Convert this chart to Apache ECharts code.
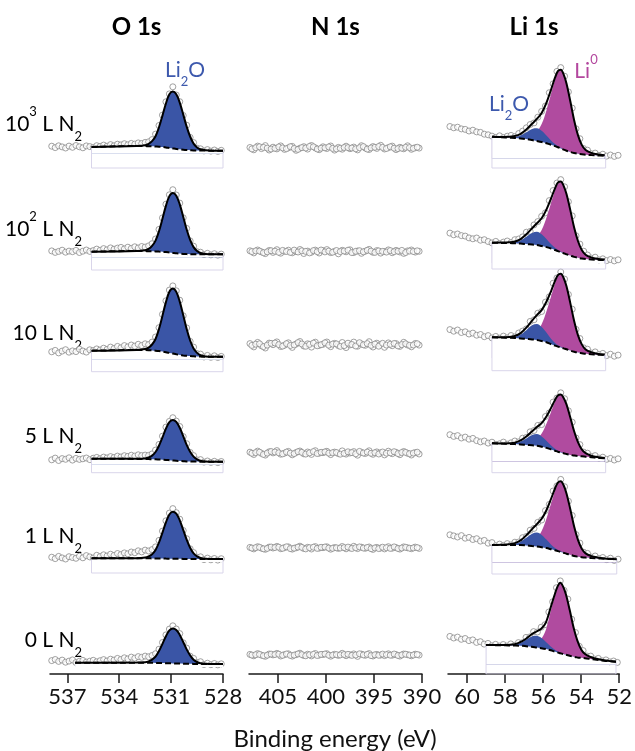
<!DOCTYPE html>
<html><head><meta charset="utf-8">
<script src="https://cdn.jsdelivr.net/npm/echarts@6/dist/echarts.min.js"></script>
<style>html,body{margin:0;padding:0;background:#fff}#c{width:635px;height:751px}</style>
</head><body><div id="c"></div>
<script>
// ---------------- text ----------------
const colTitles = ['O 1s', 'N 1s', 'Li 1s'];
const rowLabels = ['{m|10}{p|3}{m| L N}{b|2}', '{m|10}{p|2}{m| L N}{b|2}', '{m|10 L N}{b|2}',
                   '{m|5 L N}{b|2}', '{m|1 L N}{b|2}', '{m|0 L N}{b|2}'];
const xTitle = 'Binding energy (eV)';
const oTicks = [537, 534, 531, 528];
const nTicks = [405, 400, 395, 390];
const liTicks = [60, 58, 56, 54, 52];
const oRange = [528, 538], nRange = [390, 408], liRange = [52, 61];

// ---------------- O 1s ----------------
const oScatE = [537.9,537.7,537.5,537.3,537.1,536.9,536.7,536.5,536.3,536.1,535.9,535.7,535.5,535.3,535.1,534.9,534.7,534.5,534.3,534.1,533.9,533.7,533.5,533.3,533.1,532.9,532.7,532.5,532.3,532.1,531.9,531.7,531.5,531.3,531.1,530.9,530.7,530.5,530.3,530.1,529.9,529.7,529.5,529.3,529.1,528.9,528.7,528.5,528.3,528.1];
const oScat_1000 = [0.8,-0.6,1.2,0.1,-1.0,0.9,-0.3,1.5,0.2,-0.8,1.1,0.4,-0.5,1.3,0.6,1.9,0.8,2.4,1.2,2.8,2.1,3.3,2.2,3.6,2.9,4.1,3.5,4.6,5.2,7.4,12.9,21.5,31.9,45.2,53.1,60.2,52.0,45.3,31.5,21.8,9.6,4.4,-1.2,-1.8,-3.9,-2.6,-4.1,-3.0,-4.4,-3.3];
const oScat_100 = [1.1,-0.4,0.6,1.8,-0.2,0.9,0.3,1.6,-0.5,0.8,2.0,0.6,1.4,2.9,1.7,3.4,2.2,4.1,2.8,3.9,4.6,3.1,4.8,3.6,5.2,4.0,5.5,4.9,6.1,8.3,13.0,22.6,34.1,47.8,57.2,62.3,57.0,48.9,34.2,23.6,11.1,5.8,0.3,-0.2,-2.6,-1.3,-2.9,-1.7,-3.2,-2.1];
const oScat_10 = [4.2,5.6,3.1,4.9,6.3,3.8,5.1,4.4,6.8,5.0,3.9,6.2,5.5,7.1,6.0,7.8,6.6,8.9,7.5,9.6,8.2,10.4,9.1,11.0,9.8,11.7,10.5,12.2,11.4,13.9,19.0,28.3,41.6,55.2,65.9,70.1,65.2,55.8,40.2,28.1,14.6,8.9,2.4,1.9,-1.0,0.6,-1.3,0.2,-1.5,-0.4];
const oScat_5 = [-0.8,0.9,-1.5,0.4,-0.3,1.2,-1.1,0.6,-0.4,0.2,1.0,-0.6,0.8,1.6,0.3,1.9,1.1,2.4,1.5,2.9,2.0,3.3,2.6,3.8,2.9,4.2,3.4,3.9,3.6,5.1,8.9,14.6,22.8,31.9,37.6,41.3,37.9,32.5,22.4,15.3,6.6,3.4,-0.9,-0.6,-3.1,-2.0,-3.4,-2.3,-3.6,-2.5];
const oScat_1 = [1.8,0.4,2.6,1.1,0.0,2.3,1.5,0.7,2.8,1.2,3.4,2.1,1.0,3.7,2.5,4.2,3.0,4.8,3.6,5.5,4.4,6.1,5.2,7.0,6.3,8.2,7.1,8.9,8.0,9.4,12.1,18.6,27.9,38.2,45.9,50.4,46.3,39.8,28.5,20.3,10.2,6.4,1.8,2.2,-0.6,0.9,-0.8,0.5,-1.1,0.3];
const oScat_0 = [2.4,3.5,1.6,2.9,0.8,1.9,3.1,0.5,1.7,2.6,0.9,1.8,2.7,1.2,2.3,3.4,2.0,3.8,2.9,4.6,3.5,5.2,4.1,5.9,4.8,6.4,5.7,6.9,6.2,7.5,9.3,13.8,20.5,28.1,33.9,37.2,34.0,29.4,20.2,14.9,6.8,4.6,0.4,1.3,-1.5,-0.2,-1.7,-0.5,-1.9,-0.8];

const oFitE = [536.55,535.6,533.0,532.5,532.3,532.1,531.9,531.7,531.5,531.3,531.1,530.9,530.7,530.5,530.3,530.1,529.9,529.7,529.5,529.3,529.0,528.6,528.0];
const oBase_1000 = [null,0.0,1.0,0.9,0.8,0.7,0.5,0.3,0.0,-0.4,-0.9,-1.4,-1.9,-2.3,-2.7,-3.0,-3.2,-3.4,-3.5,-3.6,-3.6,-3.7,-3.7];
const oLi2O_1000 = [null,0,0.1,0.9,2.3,5.1,10.3,19.4,31.4,43.9,53.6,57.0,54.7,46.7,35.3,23.4,13.7,6.8,3.1,1.3,0.3,0,0];
const oBase_100 = [null,0.3,1.0,0.9,0.8,0.7,0.6,0.4,0.2,-0.1,-0.5,-0.9,-1.3,-1.6,-1.9,-2.1,-2.2,-2.3,-2.3,-2.3,-2.3,-2.3,-2.3];
const oLi2O_100 = [null,0,0.1,0.9,2.4,5.4,10.8,20.4,33.0,46.2,56.4,60.0,57.6,49.2,37.2,24.6,14.4,7.2,3.3,1.3,0.3,0,0];
const oBase_10 = [null,5.3,6.0,5.9,5.8,5.6,5.3,4.9,4.4,3.8,3.1,2.4,1.7,1.1,0.6,0.2,-0.1,-0.3,-0.5,-0.6,-0.7,-0.7,-0.7];
const oLi2O_10 = [null,0,0.1,1.0,2.6,5.9,11.7,22.1,35.8,50.1,61.1,65.0,62.4,53.3,40.3,26.7,15.6,7.8,3.6,1.4,0.3,0,0];
const oBase_5 = [null,0.3,0.1,0.0,-0.1,-0.2,-0.3,-0.5,-0.7,-0.9,-1.2,-1.5,-1.8,-2.0,-2.2,-2.4,-2.5,-2.6,-2.6,-2.7,-2.7,-2.7,-2.7];
const oLi2O_5 = [null,0,0.1,0.6,1.6,3.6,7.3,13.8,22.3,31.2,38.1,40.5,38.9,33.2,25.1,16.6,9.7,4.9,2.2,0.9,0.2,0,0];
const oBase_1 = [null,0.7,0.7,0.7,0.7,0.6,0.6,0.5,0.5,0.4,0.3,0.3,0.2,0.2,0.1,0.1,0.0,0.0,0.0,0.0,0.0,0.0,0.0];
const oLi2O_1 = [null,0,0.1,0.7,1.9,4.2,8.5,16.0,25.9,36.2,44.2,47.0,45.1,38.5,29.1,19.3,11.3,5.6,2.6,1.0,0.2,0,0];
const oBase_0 = [0.3,0.3,0.3,0.3,0.2,0.2,0.1,0.0,-0.1,-0.2,-0.3,-0.4,-0.5,-0.6,-0.7,-0.8,-0.8,-0.9,-0.9,-1.0,-1.0,-1.0,-1.0];
const oLi2O_0 = [0,0,0.1,0.5,1.4,3.2,6.3,11.9,19.3,27.0,32.9,35.0,33.6,28.7,21.7,14.4,8.4,4.2,1.9,0.8,0.2,0,0];
const oBoxLeft = [535.6,535.6,535.6,535.6,535.6,null];
const oBoxRight = [528.0,528.0,528.0,528.0,528.0,null];
const oBoxBottom = [-21,-18,-15.7,-13.7,-14,null];

// ---------------- N 1s (two interleaved energy grids) ----------------
const nScatE = [407.9,407.5,407.1,406.7,406.3,405.9,405.5,405.1,404.7,404.3,403.9,403.5,403.1,402.7,402.3,401.9,401.5,401.1,400.7,400.3,399.9,399.5,399.1,398.7,398.3,397.9,397.5,397.1,396.7,396.3,395.9,395.5,395.1,394.7,394.3,393.9,393.5,393.1,392.7,392.3,391.9,391.5,391.1,390.7,390.3];
const nScatE2 = [407.7,407.3,406.9,406.5,406.1,405.7,405.3,404.9,404.5,404.1,403.7,403.3,402.9,402.5,402.1,401.7,401.3,400.9,400.5,400.1,399.7,399.3,398.9,398.5,398.1,397.7,397.3,396.9,396.5,396.1,395.7,395.3,394.9,394.5,394.1,393.7,393.3,392.9,392.5,392.1,391.7,391.3,390.9,390.5];
const nScat_1000 = [-0.5,-2.8,0.9,-1.6,1.4,-3.0,-0.2,-1.9,1.1,-2.4,-0.8,0.6,-3.3,-1.2,0.3,-2.1,1.5,-0.9,-2.7,0.2,-1.5,1.0,-3.1,-0.4,-2.2,0.8,-1.7,-0.1,-2.9,1.3,-1.0,-2.5,0.4,-1.4,1.7,-2.0,-0.6,0.9,-2.6,-0.3,-1.8,1.2,-2.3,-0.7,-1.1];
const nScat2_1000 = [-1.9,-0.7,0.2,-0.4,-1.1,-2.0,-1.3,0.1,-0.9,-1.7,0.3,-1.5,-2.4,-0.6,-1.0,0.6,0.2,-2.0,-1.2,-0.8,0.1,-1.4,-1.9,-1.3,-0.5,-0.6,-1.0,-1.8,-0.7,0.4,-2.1,-0.9,-0.3,0.5,-0.4,-1.5,0.2,-1.2,-1.6,-1.2,-0.3,-0.6,-1.4,-0.2];
const nScat_100 = [1.2,-0.9,2.0,0.1,-1.6,1.5,-0.4,2.3,-1.2,0.7,1.8,-0.8,0.4,2.5,-1.5,0.9,-0.2,1.9,-1.0,1.3,2.4,-0.6,0.6,-1.8,1.7,0.2,2.2,-0.5,1.0,-1.3,0.8,2.6,-0.3,1.4,-1.1,0.5,2.1,-0.7,1.6,0.0,-1.4,1.1,2.0,-0.1,0.7];
const nScat2_100 = [0.4,1.1,0.9,-0.7,0.2,1.3,0.8,-0.3,1.6,0.5,-0.4,1.9,0.0,1.2,0.6,-0.9,1.4,0.3,2.0,0.1,0.9,-0.2,1.5,0.4,1.0,1.8,-0.6,0.7,1.3,0.2,1.7,0.9,-0.4,1.1,0.6,-0.1,1.4,0.3,0.8,1.6,-0.5,0.9,0.5,1.2];
const nScat_10 = [12.4,9.1,13.6,10.2,8.0,12.9,11.3,14.1,9.5,10.8,13.2,8.6,11.9,14.5,10.0,12.2,8.9,13.8,10.6,11.7,14.0,9.3,12.6,10.4,13.5,8.4,11.1,13.9,9.8,12.0,10.7,14.3,9.0,12.8,11.5,8.7,13.1,10.3,12.4,9.6,13.7,11.0,9.2,12.5,10.9];
const nScat2_10 = [10.6,11.8,12.2,9.4,10.9,12.6,13.0,11.4,9.9,12.3,10.5,11.1,13.4,12.0,9.7,11.6,12.9,10.2,11.3,13.2,10.8,11.9,12.1,9.6,10.4,12.8,11.5,10.0,13.3,11.2,12.4,10.6,11.9,9.8,12.7,10.9,11.7,12.5,10.1,11.4,12.2,10.7,11.0,12.3];
const nScat_5 = [6.8,4.5,7.9,5.6,3.9,7.2,6.1,8.4,4.8,5.9,7.6,4.2,6.5,8.0,5.2,7.0,4.6,8.3,5.8,6.3,7.7,4.4,6.9,5.4,8.1,4.9,6.0,7.4,3.8,6.6,5.5,8.2,4.7,7.1,6.2,4.1,7.8,5.3,6.7,4.3,7.5,5.7,4.0,6.4,5.0];
const nScat2_5 = [5.7,6.4,6.8,4.6,5.9,7.5,7.0,6.2,5.1,6.9,5.8,5.4,7.3,6.6,4.9,6.1,7.4,5.5,6.7,7.1,5.9,6.3,6.5,4.8,5.6,7.2,6.4,5.2,7.6,6.0,6.9,5.7,6.3,5.0,7.0,5.8,6.2,7.3,5.4,6.5,6.6,5.3,5.9,6.8];
const nScat_1 = [11.6,10.1,12.3,10.8,9.7,11.9,11.0,12.6,10.3,11.4,12.1,9.9,11.2,12.8,10.5,11.7,10.0,12.4,10.9,11.3,12.2,9.8,11.5,10.6,12.5,10.2,11.1,12.7,10.4,11.8,10.7,12.0,9.6,11.6,11.0,10.1,12.3,10.8,11.4,9.9,12.1,11.2,10.3,11.9,10.6];
const nScat2_1 = [10.9,11.4,11.7,10.2,10.6,12.0,11.5,11.8,10.7,12.2,10.4,10.8,11.9,11.6,10.1,11.3,11.8,10.6,11.7,12.0,10.9,10.7,11.2,11.0,11.4,11.9,10.5,11.3,12.1,11.0,11.5,10.3,11.1,10.4,11.8,11.3,10.6,12.1,10.5,11.0,11.7,10.8,11.1,11.4];
const nScat_0 = [8.6,7.2,9.4,7.8,6.7,9.0,8.1,9.6,7.0,8.4,9.2,6.9,8.3,9.8,7.5,8.8,7.1,9.5,7.9,8.5,9.3,6.8,8.7,7.6,9.7,7.3,8.2,9.1,6.6,8.9,7.7,9.4,7.0,8.6,8.0,7.4,9.2,7.8,8.4,6.9,9.0,8.3,7.2,8.8,7.9];
const nScat2_0 = [7.9,8.3,8.6,7.3,7.8,8.9,8.5,8.8,7.7,9.0,7.6,7.9,9.1,8.4,7.2,8.2,8.7,7.5,8.6,9.0,7.8,7.9,8.4,8.1,8.5,8.7,7.6,8.0,9.2,8.1,8.6,7.4,8.2,7.7,8.9,8.3,7.8,9.0,7.5,8.1,8.8,7.9,8.0,8.5];

// ---------------- Li 1s ----------------
const liScatE = [60.9,60.7,60.5,60.3,60.1,59.9,59.7,59.5,59.3,59.1,58.9,58.7,58.5,58.3,58.1,57.9,57.7,57.5,57.3,57.1,56.9,56.7,56.5,56.3,56.1,55.9,55.7,55.5,55.3,55.1,54.9,54.7,54.5,54.3,54.1,53.9,53.7,53.5,53.3,53.1,52.9,52.7,52.5,52.3,52.1];
const liScat_1000 = [20.5,19.2,19.8,18.1,17.6,16.0,16.8,15.1,14.6,12.8,12.2,10.9,9.6,11.2,9.5,10.8,11.6,10.4,13.5,15.8,19.2,22.5,24.1,29.8,35.6,41.0,54.3,63.2,75.6,79.4,70.8,55.1,38.9,18.2,8.3,-1.6,-3.2,-6.8,-6.1,-8.4,-7.2,-9.1,-8.0,-9.4,-8.3];
const liScat_100 = [18.9,17.2,18.0,16.4,15.9,14.1,13.2,14.0,11.8,12.3,10.5,9.1,10.6,8.4,9.9,11.0,9.5,12.3,13.0,15.1,19.8,20.6,27.1,30.4,35.7,39.2,51.4,61.5,69.0,72.4,65.2,50.3,36.1,16.2,7.9,0.8,-3.0,-6.1,-5.2,-7.9,-6.8,-8.6,-7.5,-8.9,-7.8];
const liScat_10 = [26.4,24.8,26.0,23.5,24.2,22.0,22.9,20.8,21.5,19.3,20.4,18.1,19.6,17.8,19.9,18.2,20.5,19.1,23.0,24.9,27.1,34.6,36.2,42.8,44.5,53.9,59.2,72.8,78.1,84.0,76.9,61.5,46.8,26.6,17.5,8.2,6.8,2.9,4.1,1.5,2.6,0.4,1.8,-0.2,0.9];
const liScat_5 = [24.3,22.6,23.4,21.0,21.9,19.8,20.6,18.4,17.1,18.0,15.9,16.8,14.6,15.2,16.9,14.8,16.2,18.0,17.1,20.8,21.6,27.2,28.5,33.6,34.4,42.5,46.1,56.9,61.0,66.2,60.3,48.2,36.8,21.0,14.4,6.9,5.8,2.6,3.4,0.9,1.8,-0.3,0.6,-1.0,0.2];
const liScat_1 = [24.2,23.1,22.0,23.4,20.8,21.6,19.5,20.3,17.9,18.6,15.8,16.4,13.2,14.9,13.6,15.4,14.1,16.8,17.0,21.3,22.5,28.8,30.6,36.7,39.0,48.4,54.6,68.0,73.1,79.6,72.3,57.8,43.5,24.4,15.9,6.8,5.6,1.9,3.0,0.4,1.5,-0.6,0.8,-1.4,-0.2];
const liScat_0 = [26.6,25.0,25.9,23.7,24.5,22.4,23.1,20.6,21.3,18.9,19.6,17.2,18.7,16.9,18.5,17.0,19.1,17.6,20.4,20.2,25.6,26.1,31.4,31.0,35.8,38.3,51.0,61.2,75.3,82.1,72.6,63.9,43.8,30.5,16.7,12.4,7.0,6.9,3.9,4.6,2.2,3.1,1.2,2.0,0.6];

const liFitE = [59.0,58.7,58.2,57.8,57.5,57.2,56.9,56.6,56.35,56.1,55.85,55.6,55.4,55.25,55.1,54.95,54.8,54.6,54.4,54.2,54.0,53.8,53.5,53.2,52.8,52.5,52.17];
const liBase_1000 = [null,10.3,9.8,9.4,9.1,8.6,7.9,6.9,6.0,5.0,3.7,2.2,0.9,-0.2,-1.4,-2.6,-3.7,-5.0,-6.0,-6.8,-7.3,-7.7,-8.1,-8.4,-8.7,null,null];
const liLi2O_1000 = [null,0,0,0.2,0.9,3.0,6.9,11.2,12.7,11.2,7.7,4.1,2.1,1.1,0.6,0.3,0.1,0,0,0,0,0,0,0,0,null,null];
const liLi0_1000 = [null,0,0.3,0.6,1.0,1.6,2.7,5.1,9.4,17.9,32.8,51.5,66.3,74.9,78.0,74.9,67.1,50.7,32.8,18.7,9.4,4.7,2.2,1.1,0.5,null,null];
const liBase_100 = [null,9.3,9.1,8.9,8.7,8.4,7.9,7.4,7.0,6.0,4.9,3.4,2.0,0.9,-0.2,-1.3,-2.3,-3.6,-4.9,-5.8,-6.5,-7.0,-7.5,-7.8,-8.0,null,null];
const liLi2O_100 = [null,0,0,0.2,0.9,3.1,7.3,11.7,13.3,11.7,8.1,4.3,2.2,1.2,0.6,0.3,0.1,0,0,0,0,0,0,0,0,null,null];
const liLi0_100 = [null,0,0.3,0.6,0.9,1.4,2.5,4.6,8.4,16.1,29.4,46.2,59.5,67.2,70.0,67.2,60.2,45.5,29.4,16.8,8.4,4.2,2.0,1.0,0.4,null,null];
const liBase_10 = [null,18.7,18.4,18.2,18.0,17.6,17.1,16.6,16.0,15.0,13.8,11.8,10.4,9.4,8.5,7.6,6.8,5.4,4.3,3.4,2.8,2.2,1.7,1.3,1.0,null,null];
const liLi2O_10 = [null,0,0,0.2,1.1,3.8,8.7,14.1,16.0,14.1,9.7,5.2,2.6,1.4,0.7,0.3,0.1,0,0,0,0,0,0,0,0,null,null];
const liLi0_10 = [null,0,0.3,0.6,0.9,1.5,2.6,4.7,8.8,16.8,30.7,48.2,62.1,70.1,73.0,70.1,62.8,47.5,30.7,17.5,8.8,4.4,2.0,1.0,0.4,null,null];
const liBase_5 = [null,15.7,15.4,15.1,14.9,14.6,14.1,13.7,13.3,12.3,11.1,9.6,8.3,7.3,6.5,5.7,5.0,4.1,3.5,3.0,2.7,2.3,1.7,1.2,0.7,null,null];
const liLi2O_5 = [null,0,0,0.2,0.8,2.8,6.4,10.3,11.7,10.3,7.1,3.8,1.9,1.0,0.5,0.2,0.1,0,0,0,0,0,0,0,0,null,null];
const liLi0_5 = [null,0,0.2,0.5,0.7,1.2,2.0,3.7,6.9,13.2,24.2,38.0,48.9,55.2,57.5,55.2,49.5,37.4,24.2,13.8,6.9,3.5,1.6,0.8,0.3,null,null];
const liBase_1 = [null,14.0,14.0,14.0,14.0,14.0,13.6,13.0,12.5,11.8,10.9,9.7,8.7,7.9,7.1,6.2,5.3,4.2,3.0,2.3,1.8,1.4,0.9,0.6,0.2,0.0,-0.3];
const liLi2O_1 = [null,0,0,0.2,1.0,3.3,7.6,12.3,14.0,12.3,8.5,4.6,2.3,1.2,0.6,0.3,0.1,0,0,0,0,0,0,0,0,0,0];
const liLi0_1 = [null,0,0.3,0.6,0.9,1.4,2.5,4.6,8.4,16.1,29.4,46.2,59.5,67.2,70.0,67.2,60.2,45.5,29.4,16.8,8.4,4.2,2.0,1.0,0.4,0.2,0];
const liBase_0 = [18.0,17.9,17.8,17.6,17.5,17.3,16.8,16.2,15.5,14.8,13.9,12.7,11.5,10.6,9.8,9.0,8.2,7.2,6.2,5.6,5.2,4.8,4.0,3.2,2.3,1.8,1.3];
const liLi2O_0 = [0,0,0,0.2,0.8,2.8,6.4,10.4,11.8,10.4,7.2,3.8,1.9,1.1,0.5,0.2,0.1,0,0,0,0,0,0,0,0,0,0];
const liLi0_0 = [0,0,0.1,0.3,0.4,0.7,1.1,2.1,4.2,9.1,19.6,39.2,54.6,64.4,70.0,67.2,60.2,45.5,29.4,16.8,8.4,4.2,2.0,1.0,0.4,0.2,0];
const liBoxLeft = [58.7,58.7,58.7,58.7,58.7,59.0];
const liBoxRight = [52.75,52.75,52.75,52.75,52.17,52.17];
const liBoxBottom = [-21,-17,-14.7,-13.7,-15,-11];

// ---------------- layout & style ----------------
const rowRef = [147, 252, 356, 459, 559, 663];
const colLeft = [50, 249, 448];
const colWidth = [173, 173, 172];
const FONT = 'Lato, "Open Sans", sans-serif';
const BLUE = '#3a55a6', MAG = '#b04b9f', BOXC = '#d9d5ea';
const SM = 0.35;

const oScat = [oScat_1000, oScat_100, oScat_10, oScat_5, oScat_1, oScat_0];
const oBase = [oBase_1000, oBase_100, oBase_10, oBase_5, oBase_1, oBase_0];
const oLi2O = [oLi2O_1000, oLi2O_100, oLi2O_10, oLi2O_5, oLi2O_1, oLi2O_0];
const nScat = [nScat_1000, nScat_100, nScat_10, nScat_5, nScat_1, nScat_0];
const nScat2 = [nScat2_1000, nScat2_100, nScat2_10, nScat2_5, nScat2_1, nScat2_0];
const liScat = [liScat_1000, liScat_100, liScat_10, liScat_5, liScat_1, liScat_0];
const liBase = [liBase_1000, liBase_100, liBase_10, liBase_5, liBase_1, liBase_0];
const liLi2O = [liLi2O_1000, liLi2O_100, liLi2O_10, liLi2O_5, liLi2O_1, liLi2O_0];
const liLi0 = [liLi0_1000, liLi0_100, liLi0_10, liLi0_5, liLi0_1, liLi0_0];

function pairs(E, v) { const out = []; for (let i = 0; i < E.length; i++) if (v[i] != null) out.push([E[i], v[i]]); return out; }
function addUp(base, comps) { return base.map((b, i) => b == null ? null : comps.reduce((s, c) => s + c[i], b)); }

const grids = [], xAxes = [], yAxes = [], series = [];
function lineS(gi, data, extra) {
  return Object.assign({ type: 'line', xAxisIndex: gi, yAxisIndex: gi, data, symbol: 'none', silent: true, animation: false }, extra);
}
function scatterS(gi, E, v) {
  return { type: 'scatter', xAxisIndex: gi, yAxisIndex: gi, data: pairs(E, v), symbol: 'circle', symbolSize: 6, silent: true, animation: false,
    itemStyle: { color: '#ffffff', borderColor: '#8a8a8a', borderWidth: 1 } };
}
function fitPanel(gi, E, base, comps, box) {
  const bv = base.filter(v => v != null);
  const origin = Math.min(...bv) - 3;
  comps.forEach(([vals, col]) => {
    series.push(lineS(gi, pairs(E, addUp(base, [vals])), { smooth: SM, lineStyle: { opacity: 0 }, areaStyle: { color: col, opacity: 1, origin } }));
  });
  series.push(lineS(gi, pairs(E, base), { smooth: SM, lineStyle: { opacity: 0 }, areaStyle: { color: '#ffffff', opacity: 1, origin } }));
  if (box && box[0] != null) {
    const [x0, x1, yb] = box;
    series.push(lineS(gi, [[x0, bv[0]], [x0, yb], [x1, yb], [x1, bv[bv.length - 1]]], { lineStyle: { color: BOXC, width: 1 } }));
  }
  series.push(lineS(gi, pairs(E, base), { smooth: SM, lineStyle: { color: '#000', width: 2, type: [6, 3] } }));
  series.push(lineS(gi, pairs(E, addUp(base, comps.map(c => c[0]))), { smooth: SM, lineStyle: { color: '#000', width: 2 } }));
}

const ranges = [oRange, nRange, liRange];
const ticks = [oTicks, nTicks, liTicks];
for (let r = 0; r < 6; r++) {
  const last = r === 5;
  for (let c = 0; c < 3; c++) {
    const gi = r * 3 + c;
    grids.push({ left: colLeft[c], width: colWidth[c], top: rowRef[r] - 90, height: last ? 101 : 115 });
    xAxes.push({
      gridIndex: gi, type: 'value', min: ranges[c][0], max: ranges[c][1], inverse: true, show: last,
      axisLine: { show: true, onZero: false, lineStyle: { color: '#1a1a1a', width: 1.5 } },
      axisTick: { show: true, length: 9, customValues: ticks[c], lineStyle: { color: '#1a1a1a', width: 1.5 } },
      axisLabel: { show: true, customValues: ticks[c], fontSize: 22, fontFamily: FONT, color: '#111', margin: 12 },
      splitLine: { show: false }
    });
    yAxes.push({ gridIndex: gi, type: 'value', min: last ? -11 : -25, max: 90, show: false });
  }
  const g0 = r * 3;
  // O 1s
  fitPanel(g0, oFitE, oBase[r], [[oLi2O[r], BLUE]], [oBoxLeft[r], oBoxRight[r], oBoxBottom[r]]);
  series.push(scatterS(g0, oScatE, oScat[r]));
  // N 1s
  series.push(scatterS(g0 + 1, nScatE, nScat[r]));
  series.push(scatterS(g0 + 1, nScatE2, nScat2[r]));
  // Li 1s
  fitPanel(g0 + 2, liFitE, liBase[r], [[liLi0[r], MAG], [liLi2O[r], BLUE]], [liBoxLeft[r], liBoxRight[r], liBoxBottom[r]]);
  series.push(scatterS(g0 + 2, liScatE, liScat[r]));
}

const graphic = [];
colTitles.forEach((t, c) => graphic.push({ type: 'text', x: colLeft[c] + colWidth[c] / 2, y: 27,
  style: { text: t, fontSize: 24, fontWeight: 'bold', fontFamily: FONT, fill: '#000', align: 'center', verticalAlign: 'middle' } }));
const rich = {
  m: { fontSize: 21, fontFamily: FONT, lineHeight: 38, verticalAlign: 'middle', fill: '#000' },
  p: { fontSize: 13, fontFamily: FONT, lineHeight: 22, verticalAlign: 'top', fill: '#000' },
  b: { fontSize: 13, fontFamily: FONT, lineHeight: 14, verticalAlign: 'bottom', fill: '#000' }
};
rowLabels.forEach((t, r) => graphic.push({ type: 'text', x: 82, y: rowRef[r] - 23,
  style: { text: t, rich, align: 'right', verticalAlign: 'middle' } }));
function chemLabel(text, x, y, col) {
  return { type: 'text', x, y, style: { text, align: 'center', verticalAlign: 'middle', fill: col, rich: {
    m: { fontSize: 21, fontFamily: FONT, lineHeight: 36, verticalAlign: 'middle', fill: col },
    p: { fontSize: 13, fontFamily: FONT, lineHeight: 20, verticalAlign: 'top', fill: col },
    b: { fontSize: 13, fontFamily: FONT, lineHeight: 14, verticalAlign: 'bottom', fill: col } } } };
}
graphic.push(chemLabel('{m|Li}{b|2}{m|O}', 185, 70, '#3d59ad'));
graphic.push(chemLabel('{m|Li}{b|2}{m|O}', 509, 104, '#3d59ad'));
graphic.push(chemLabel('{m|Li}{p|0}', 586, 71, '#b3479e'));
graphic.push({ type: 'text', x: 335, y: 739, style: { text: xTitle, fontSize: 24, fontFamily: FONT, fill: '#111', align: 'center', verticalAlign: 'middle' } });

const chart = echarts.init(document.getElementById('c'), null, { renderer: 'canvas' });
chart.setOption({ animation: false, backgroundColor: '#fff', grid: grids, xAxis: xAxes, yAxis: yAxes, series, graphic });
</script></body></html>
